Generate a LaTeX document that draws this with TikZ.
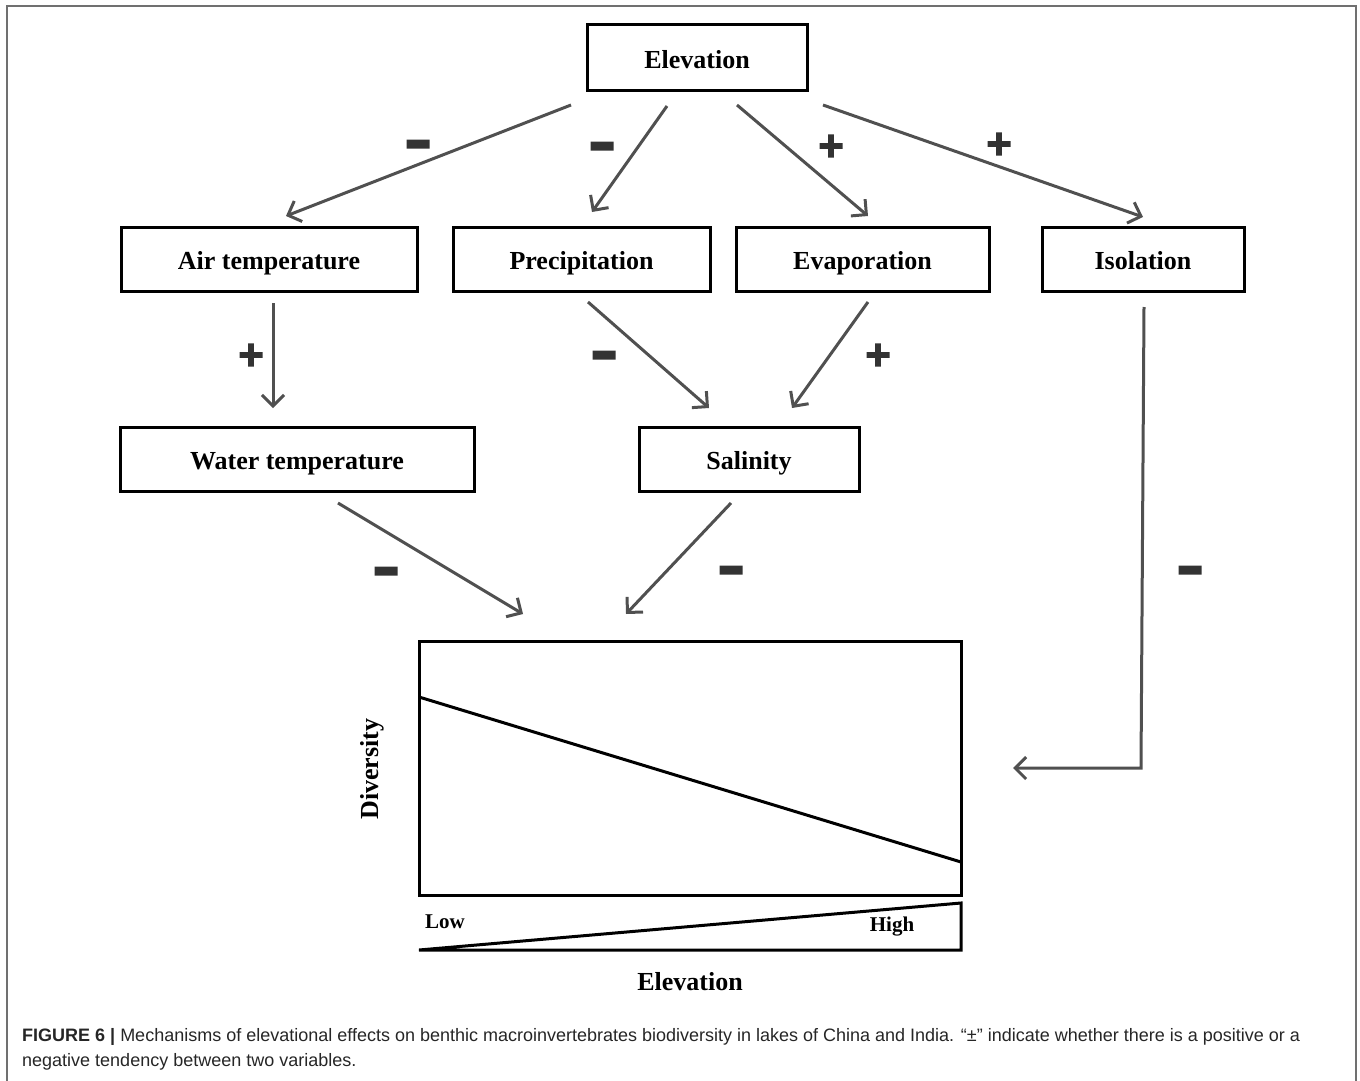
\documentclass[tikz,border=0pt]{standalone}
\usepackage{fontspec}
\usepackage{graphicx}
\setmainfont{Liberation Serif}
\newfontfamily\capfont{Liberation Sans}
\newfontfamily\signfont[BoldFeatures={FakeBold=5}]{DejaVu Sans}
\usetikzlibrary{arrows.meta}
\definecolor{arrowgray}{HTML}{505050}
\definecolor{signgray}{HTML}{333333}
\definecolor{framegray}{HTML}{707070}
\newcommand{\thickminus}{\scalebox{1}[1.6]{−}}
\begin{document}
\begin{tikzpicture}[x=1pt,y=-1pt,
  box/.style={draw=black,line width=3pt,minimum height=64pt,inner sep=0pt,
    text height=26pt,text depth=5pt,
    font=\fontsize{26}{26}\selectfont\bfseries},
  conn/.style={draw=arrowgray,line width=3pt,
    -{Straight Barb[length=11pt,width=22pt,line width=3pt]}},
  sign/.style={text=signgray,inner sep=0pt,font=\fontsize{34}{34}\signfont\bfseries},
  minus/.style={sign,yshift=-7pt},
  lbl/.style={inner sep=0pt,font=\fontsize{21}{21}\selectfont\bfseries},
  big/.style={inner sep=0pt,font=\fontsize{26}{26}\selectfont\bfseries}]
\useasboundingbox (0,0) rectangle (1360,1081);
% frame
\draw[framegray,line width=2pt] (7,1081) -- (7,6) -- (1356,6) -- (1356,1081);
% boxes
\node[box,minimum width=220pt,minimum height=65pt] (elev) at (697,57.5) {Elevation};
\node[box,minimum width=296pt] (air) at (269,259) {Air temperature};
\node[box,minimum width=257pt] (prec) at (581.5,259) {Precipitation};
\node[box,minimum width=253pt] (evap) at (862.5,259) {Evaporation};
\node[box,minimum width=202pt] (iso) at (1143,259) {Isolation};
\node[box,minimum width=354pt] (water) at (297,459) {Water temperature};
\node[box,minimum width=220pt] (sal) at (749,459) {Salinity};
\node[draw=black,line width=3pt,minimum width=542pt,minimum height=254pt,inner sep=0pt] (plot) at (690,768) {};
% endpoints
\coordinate (a1) at (571,105); \coordinate (b1) at (286,216);
\coordinate (a2) at (667,106); \coordinate (b2) at (592,212);
\coordinate (a3) at (737,105); \coordinate (b3) at (868,216);
\coordinate (a4) at (823,105); \coordinate (b4) at (1143,217);
\coordinate (a5) at (273,303); \coordinate (b5) at (273,408);
\coordinate (a6) at (588,302); \coordinate (b6) at (709,408);
\coordinate (a7) at (868,302); \coordinate (b7) at (792,408);
\coordinate (a8) at (338,503); \coordinate (b8) at (523,614);
\coordinate (a9) at (731,503); \coordinate (b9) at (626,614);
\coordinate (a10) at (1144,307); \coordinate (k10) at (1141,768); \coordinate (b10) at (1013,768);
\draw[conn] (a1) -- (b1);
\draw[conn] (a2) -- (b2);
\draw[conn] (a3) -- (b3);
\draw[conn] (a4) -- (b4);
\draw[conn] (a5) -- (b5);
\draw[conn] (a6) -- (b6);
\draw[conn] (a7) -- (b7);
\draw[conn] (a8) -- (b8);
\draw[conn] (a9) -- (b9);
\draw[conn] (a10) -- (k10) -- (b10);
% signs
\node[minus] (s1) at (418,144) {\thickminus};
\node[minus] (s2) at (602,146) {\thickminus};
\node[sign] (s3) at (831,146) {+};
\node[sign] (s4) at (999,144) {+};
\node[sign] (s5) at (251,355) {+};
\node[minus] (s6) at (604,355) {\thickminus};
\node[sign] (s7) at (878,355) {+};
\node[minus] (s8) at (386,571) {\thickminus};
\node[minus] (s9) at (731,570) {\thickminus};
\node[minus] (s10) at (1190,570) {\thickminus};
% plot content
\coordinate (p1) at (419,697); \coordinate (p2) at (961,862);
\draw[black,line width=3pt] (p1) -- (p2);
\coordinate (t1) at (419,950); \coordinate (t2) at (961,903); \coordinate (t3) at (961,950);
\draw[black,line width=3pt,line join=miter] (t1) -- (t2) -- (t3) -- cycle;
\node[lbl] (low) at (445,922) {Low};
\node[lbl] (high) at (892,927) {High};
\node[big] (xlab) at (690,982) {Elevation};
\node[big,rotate=90] (ylab) at (372,769) {Diversity};
% caption
\node[anchor=base west,inner sep=0pt,font=\fontsize{18}{18}\capfont,text=black!85] (cap1) at (22,1041)
  {\textbf{FIGURE 6 |} Mechanisms of elevational effects on benthic macroinvertebrates biodiversity in lakes of China and India. “±” indicate whether there is a positive or a};
\node[anchor=base west,inner sep=0pt,font=\fontsize{18}{18}\capfont,text=black!85] (cap2) at (22,1066)
  {negative tendency between two variables.};
\end{tikzpicture}
\end{document}
